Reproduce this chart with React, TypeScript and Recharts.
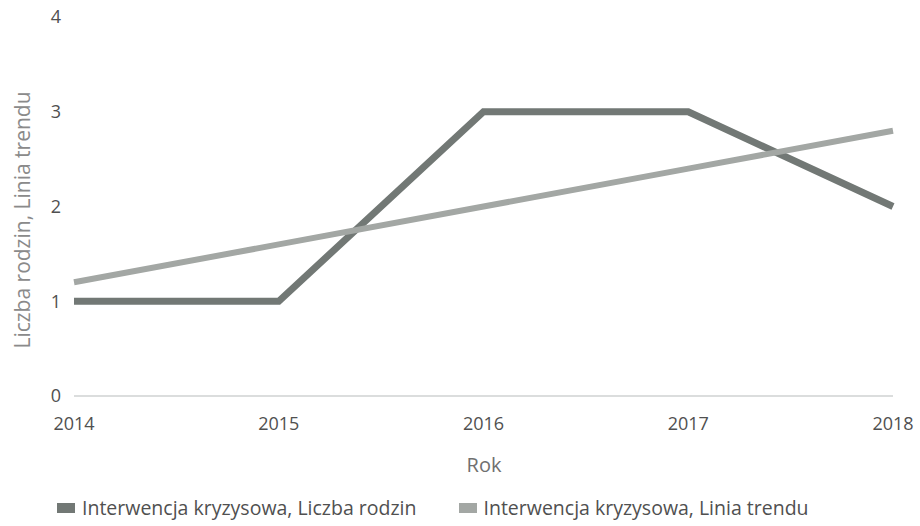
import { LineChart, Line, XAxis, YAxis, Label } from 'recharts';

const years = [2014, 2015, 2016, 2017, 2018];
const liczbaRodzin = [1, 1, 3, 3, 2];
const liniaTrendu = [1.2, 1.6, 2.0, 2.4, 2.8];
const yTicks = [0, 1, 2, 3, 4];

const seriesNames = [
  'Interwencja kryzysowa, Liczba rodzin',
  'Interwencja kryzysowa, Linia trendu',
];
const colors = ['#727875', '#a3a7a4'];

const data = years.map((y, i) => ({
  year: y,
  rodziny: liczbaRodzin[i],
  trend: liniaTrendu[i],
}));

const font = '"Open Sans", sans-serif';

export default function App() {
  return (
    <div style={{ position: 'absolute', left: 0, top: 0, width: 920, height: 526, background: '#fff', fontFamily: font }}>
      <LineChart width={920} height={526} data={data} margin={{ top: 17, right: 27, bottom: 0, left: 0 }}>
        <XAxis
          dataKey="year"
          axisLine={{ stroke: '#cfd2d2', strokeWidth: 1.5 }}
          tickLine={false}
          tick={{ fill: '#505050', fontSize: 18, fontFamily: font }}
          tickMargin={15}
          height={130}
        >
          <Label
            content={() => (
              <text x={484} y={472} textAnchor="middle" fill="#707070" fontSize={20} fontFamily={font}>
                Rok
              </text>
            )}
          />
        </XAxis>
        <YAxis
          domain={[0, 4]}
          ticks={yTicks}
          width={74}
          axisLine={false}
          tickLine={false}
          tick={{ fill: '#505050', fontSize: 18, fontFamily: font }}
          tickMargin={7}
        >
          <Label
            content={() => (
              <text
                x={22}
                y={220}
                transform="rotate(-90 22 220)"
                textAnchor="middle"
                dominantBaseline="central"
                fill="#8a8a8a"
                fontSize={21}
                fontFamily={font}
              >
                Liczba rodzin, Linia trendu
              </text>
            )}
          />
        </YAxis>
        <Line
          type="linear"
          dataKey="rodziny"
          stroke={colors[0]}
          strokeWidth={7}
          dot={false}
          isAnimationActive={false}
        />
        <Line
          type="linear"
          dataKey="trend"
          stroke={colors[1]}
          strokeWidth={6}
          dot={false}
          isAnimationActive={false}
        />
      </LineChart>
      <div style={{ position: 'absolute', left: 57, top: 495, display: 'flex', fontSize: 19.5, color: '#505050', lineHeight: '26px' }}>
        {seriesNames.map((n, i) => (
          <div key={n} style={{ display: 'flex', alignItems: 'center', marginRight: 42 }}>
            <span style={{ display: 'inline-block', width: 18, height: 10, background: colors[i], marginRight: 7 }} />
            <span>{n}</span>
          </div>
        ))}
      </div>
    </div>
  );
}
